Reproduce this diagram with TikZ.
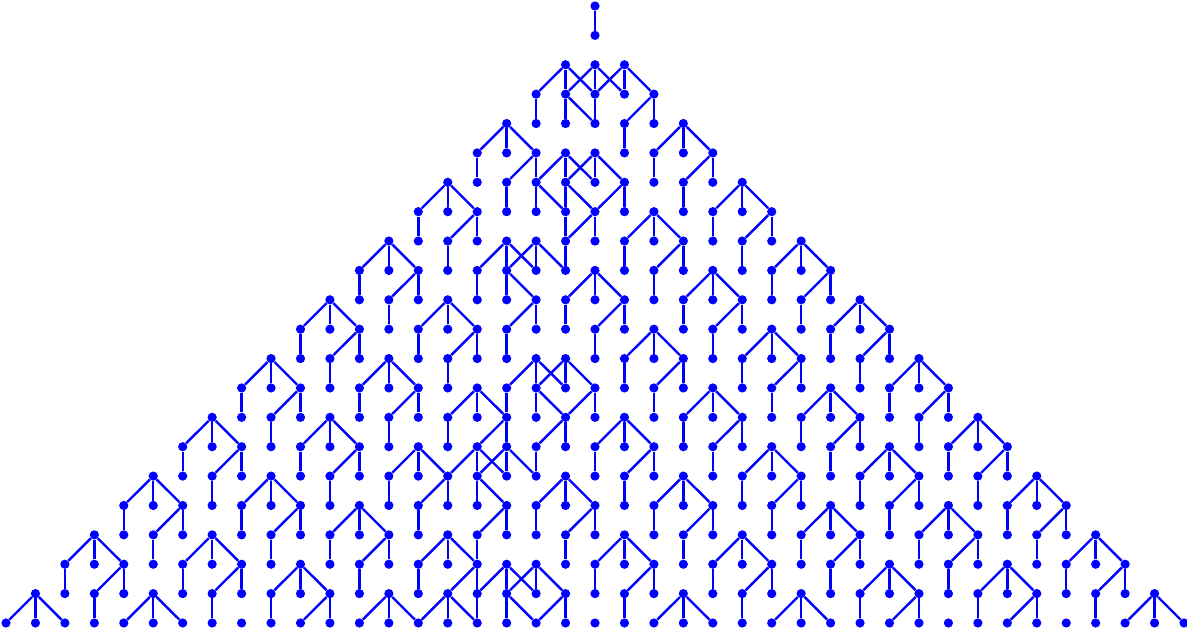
\documentclass[tikz,border=0pt]{standalone}
\definecolor{gblue}{RGB}{0,0,255}
\tikzset{dot/.style={circle,fill=gblue,inner sep=0pt,minimum size=6.9pt},
  edge/.style={draw=gblue,line width=1.8pt}}
\newcommand{\Ed}[3]{%
  \pgfmathtruncatemacro{\eia}{#1+20}%
  \pgfmathtruncatemacro{\eib}{#1+#3+20}%
  \pgfmathtruncatemacro{\era}{#2}%
  \pgfmathtruncatemacro{\erb}{#2+1}%
  \ifnum\erb<22 \draw[edge] (v\eia-\era) -- (v\eib-\erb);\fi}
\newcommand{\Tm}[2]{%
  \pgfmathtruncatemacro{\tra}{#2+1}%
  \pgfmathtruncatemacro{\trb}{#2+2}%
  \pgfmathtruncatemacro{\tcl}{#1-1}%
  \pgfmathtruncatemacro{\tcr}{#1+1}%
  \Ed{#1}{#2}{-1}\Ed{#1}{#2}{0}\Ed{#1}{#2}{1}%
  \Ed{\tcl}{\tra}{0}\Ed{\tcr}{\tra}{-1}\Ed{\tcr}{\tra}{0}\Ed{#1}{\trb}{0}}
\begin{document}
\begin{tikzpicture}[x=0.75pt,y=-0.75pt]
\useasboundingbox (0,0) rectangle (1187,632);
% dots
\node[dot] (v20-0) at (595,6) {};
\node[dot] (v20-1) at (595,35.38) {};
\foreach \r in {2,...,21}{
  \pgfmathtruncatemacro\lo{21-\r}\pgfmathtruncatemacro\hi{19+\r}
  \foreach \i in {\lo,...,\hi}{
    \node[dot] (v\i-\r) at ({595+29.45*(\i-20)},{6+29.38*\r}) {};}}
% regular motifs
\foreach \c/\r in {-3/4,3/4,-5/6,5/6,2/7,-7/8,7/8,0/9,4/9,-9/10,-5/10,9/10,
  2/11,6/11,-11/12,-7/12,11/12,8/13,4/13,-13/14,-9/14,1/14,13/14,-6/15,6/15,10/15,
  -15/16,-11/16,-1/16,3/16,15/16,-8/17,8/17,12/17,-17/18,-13/18,1/18,5/18,17/18,
  -10/19,10/19,14/19,-19/20,-15/20,-7/20,3/20,7/20,19/20}{\Tm{\c}{\r}}
% irregular connectors
\foreach \c/\r/\d in {0/0/0,
  -1/2/-1,-1/2/0,-1/2/1,0/2/-1,0/2/0,0/2/1,1/2/-1,1/2/0,1/2/1,
  -2/3/0,-1/3/0,-1/3/1,0/3/0,2/3/-1,2/3/0,1/4/0,
  -1/5/-1,-1/5/0,-1/5/1,0/5/-1,0/5/0,0/5/1,
  -2/6/0,-2/6/1,-1/6/0,-1/6/1,1/6/-1,1/6/0,-1/7/0,0/7/-1,0/7/0,-1/8/0,
  -3/8/-1,-3/8/0,-3/8/1,-2/8/-1,-2/8/0,-2/8/1,-4/9/0,-3/9/0,-3/9/1,-2/10/-1,-2/10/0,-3/11/0,
  -2/12/-1,-2/12/0,-2/12/1,-1/12/-1,-1/12/0,-1/12/1,-3/13/0,-2/13/0,-2/13/1,0/13/-1,0/13/0,
  -1/14/-1,-1/14/0,-2/15/0,
  -4/13/-1,-4/13/0,-4/13/1,-5/14/0,-3/14/-1,-3/14/0,-4/15/-1,-4/15/0,-4/15/1,
  -3/15/-1,-3/15/0,-3/15/1,-4/16/0,-4/16/1,-3/17/-1,-3/17/0,-4/18/0,
  -5/18/-1,-5/18/0,-5/18/1,-6/19/0,-4/19/-1,-4/19/0,-5/20/-1,-5/20/0,-5/20/1,
  -3/19/-1,-3/19/0,-3/19/1,-2/19/-1,-2/19/0,-2/19/1,-4/20/0,-3/20/0,-3/20/1,-1/20/-1,-1/20/0}
  {\Ed{\c}{\r}{\d}}
\end{tikzpicture}
\end{document}
